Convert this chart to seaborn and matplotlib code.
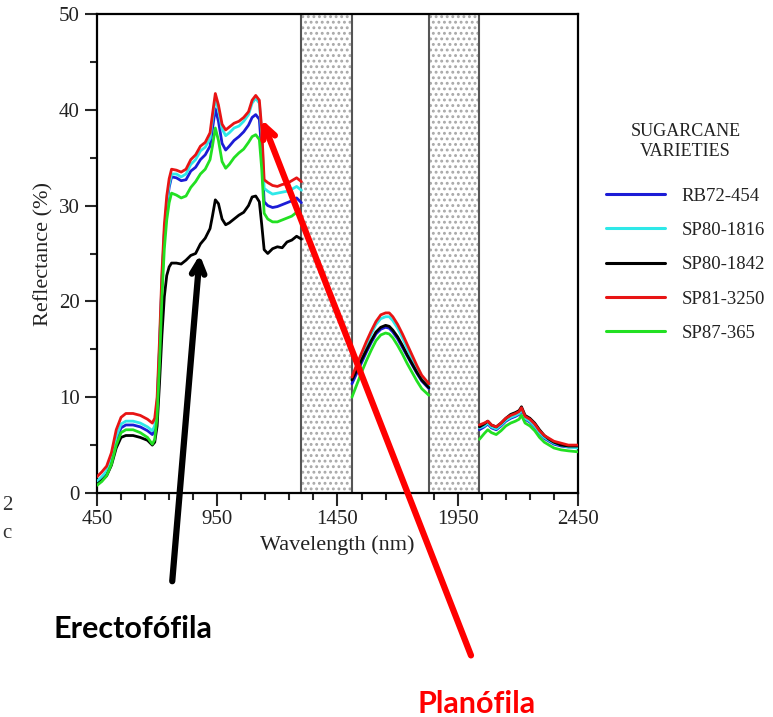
import numpy as np
import pandas as pd
import seaborn as sns
import matplotlib.pyplot as plt

# %% Dados (reflectância em %)
varieties = ['RB72-454', 'SP80-1816', 'SP80-1842', 'SP81-3250', 'SP87-365']
colors = ['#1c1cd6', '#2ee8e8', '#000000', '#e81414', '#22e022']

wl_seg1 = [450, 470, 490, 510, 530, 550, 570, 600, 630, 660, 680, 690, 700, 710, 720, 730,
           740, 750, 760, 780, 800, 820, 840, 860, 880, 900, 920, 930, 942, 955, 970, 985,
           1000, 1020, 1040, 1060, 1080, 1095, 1110, 1125, 1135, 1145, 1160, 1180, 1200,
           1220, 1240, 1260, 1280, 1300]
wl_seg2 = [1510, 1530, 1550, 1570, 1590, 1610, 1630, 1650, 1665, 1680, 1700, 1720, 1740,
           1760, 1780, 1800, 1830]
wl_seg3 = [2040, 2060, 2075, 2090, 2110, 2130, 2150, 2170, 2190, 2205, 2215, 2230, 2250,
           2270, 2290, 2310, 2330, 2350, 2380, 2410, 2450]

rb72_454 = [1.1, 1.5, 2.1, 3.3, 5.5, 6.8, 7.1, 7.1, 6.9, 6.5, 6.1, 6.6, 9.0, 15.0, 22.0, 27.0,
            30.0, 31.9, 33.0, 32.9, 32.6, 32.7, 33.6, 34.0, 34.8, 35.3, 36.2, 38.0, 40.1, 38.8,
            36.5, 35.8, 36.2, 36.8, 37.2, 37.7, 38.4, 39.2, 39.5, 39.0, 35.5, 30.4, 30.0, 29.8,
            29.9, 30.1, 30.3, 30.5, 30.8, 30.3,
            11.4, 12.5, 13.6, 14.7, 15.7, 16.6, 17.1, 17.3, 17.2, 16.8, 16.1, 15.2, 14.3, 13.4,
            12.5, 11.7, 10.9,
            6.6, 6.9, 7.2, 6.8, 6.6, 7.0, 7.5, 7.8, 8.0, 8.2, 8.6, 7.7, 7.4, 6.9, 6.2, 5.7, 5.4,
            5.1, 4.9, 4.8, 4.8]
sp80_1816 = [1.2, 1.7, 2.3, 3.6, 5.9, 7.2, 7.5, 7.5, 7.3, 6.9, 6.5, 7.0, 9.3, 15.3, 22.3, 27.3,
             30.3, 32.2, 33.3, 33.3, 33.0, 33.3, 34.3, 34.8, 35.7, 36.1, 37.0, 39.0, 41.2, 40.0,
             38.0, 37.3, 37.6, 38.1, 38.3, 38.8, 39.5, 40.7, 41.2, 40.7, 37.5, 31.8, 31.5, 31.2,
             31.3, 31.4, 31.5, 31.7, 32.0, 31.6,
             11.9, 13.1, 14.3, 15.5, 16.6, 17.6, 18.2, 18.4, 18.4, 18.0, 17.2, 16.2, 15.1, 14.0,
             13.0, 12.0, 11.2,
             6.8, 7.0, 7.3, 6.9, 6.7, 7.1, 7.6, 7.9, 8.1, 8.3, 8.7, 7.8, 7.5, 7.0, 6.3, 5.8, 5.5,
             5.2, 5.0, 4.8, 4.7]
sp80_1842 = [0.9, 1.3, 1.8, 2.9, 4.7, 5.8, 6.0, 6.0, 5.8, 5.5, 5.0, 5.3, 7.0, 11.5, 16.5, 20.5,
             22.7, 23.6, 24.0, 24.0, 23.9, 24.3, 24.8, 25.0, 26.0, 26.6, 27.6, 28.9, 30.6, 30.2,
             28.6, 28.0, 28.2, 28.6, 29.0, 29.3, 30.0, 30.9, 31.0, 30.4, 28.0, 25.4, 25.0, 25.5,
             25.7, 25.6, 26.2, 26.4, 26.8, 26.5,
             11.8, 12.8, 13.9, 14.9, 15.9, 16.8, 17.3, 17.5, 17.4, 17.0, 16.3, 15.4, 14.4, 13.5,
             12.6, 11.8, 11.0,
             6.9, 7.2, 7.5, 7.1, 6.9, 7.3, 7.8, 8.2, 8.4, 8.6, 9.0, 8.1, 7.8, 7.3, 6.6, 6.0, 5.6,
             5.3, 5.0, 4.9, 4.9]
sp81_3250 = [1.7, 2.2, 2.8, 4.2, 6.6, 7.9, 8.3, 8.3, 8.1, 7.7, 7.3, 7.8, 10.0, 16.0, 23.0, 28.0,
             31.0, 32.8, 33.8, 33.7, 33.5, 33.8, 34.8, 35.3, 36.2, 36.6, 37.6, 39.5, 41.7, 40.5,
             38.5, 37.9, 38.2, 38.6, 38.8, 39.2, 39.8, 41.0, 41.5, 41.0, 38.0, 32.7, 32.4, 32.1,
             32.0, 32.2, 32.3, 32.6, 32.9, 32.5,
             12.1, 13.4, 14.6, 15.8, 16.9, 17.9, 18.6, 18.8, 18.8, 18.4, 17.6, 16.6, 15.5, 14.4,
             13.3, 12.3, 11.4,
             7.1, 7.3, 7.5, 7.1, 6.9, 7.3, 7.8, 8.1, 8.3, 8.5, 8.9, 8.0, 7.7, 7.2, 6.5, 6.0, 5.7,
             5.4, 5.2, 5.0, 5.0]
sp87_365 = [0.8, 1.2, 1.8, 3.0, 5.0, 6.3, 6.6, 6.6, 6.3, 5.8, 5.1, 5.6, 8.0, 13.5, 20.5, 25.5,
            28.5, 30.3, 31.3, 31.1, 30.8, 31.0, 31.9, 32.5, 33.3, 33.8, 34.8, 36.2, 38.1, 36.8,
            34.6, 33.9, 34.3, 35.0, 35.5, 35.9, 36.6, 37.2, 37.4, 36.9, 33.8, 29.2, 28.6, 28.3,
            28.3, 28.5, 28.7, 28.9, 29.3, 28.9,
            10.0, 11.3, 12.6, 13.8, 14.9, 15.9, 16.5, 16.7, 16.6, 16.2, 15.4, 14.5, 13.5, 12.6,
            11.7, 10.9, 10.2,
            5.6, 6.2, 6.6, 6.3, 6.1, 6.5, 7.0, 7.3, 7.5, 7.7, 8.1, 7.3, 7.0, 6.5, 5.8, 5.3, 5.0,
            4.7, 4.5, 4.4, 4.3]

# faixas de absorção da água (sem dados)
gaps = [(1300, 1510), (1830, 2040)]

# %% Montando o dataframe longo
wl_all = wl_seg1 + wl_seg2 + wl_seg3
seg_all = [1] * len(wl_seg1) + [2] * len(wl_seg2) + [3] * len(wl_seg3)
series = [rb72_454, sp80_1816, sp80_1842, sp81_3250, sp87_365]
frames = []
for nome, vals in zip(varieties, series):
    frames.append(pd.DataFrame({'wl': wl_all, 'refl': vals, 'seg': seg_all, 'variedade': nome}))
dataset = pd.concat(frames, ignore_index=True)

# %% Gráfico
sns.set_style('white')
plt.rcParams['font.family'] = ['Liberation Serif', 'DejaVu Serif']
plt.rcParams['hatch.linewidth'] = 1.3

fig = plt.figure(figsize=(7.73, 7.17), dpi=100)
ax = fig.add_axes([97 / 773, 1 - 493 / 717, 481 / 773, 479 / 717])

for a, b in gaps:
    ax.axvspan(a, b, facecolor='white', edgecolor='#a8a8a8', hatch='...', lw=0, zorder=0)
    ax.axvline(a, color='#555555', lw=1.5, zorder=1)
    ax.axvline(b, color='#555555', lw=1.5, zorder=1)

sns.lineplot(data=dataset, x='wl', y='refl', hue='variedade', units='seg', estimator=None,
             palette=dict(zip(varieties, colors)), hue_order=varieties, lw=2, ax=ax, zorder=3)

ax.set_xlim(450, 2450)
ax.set_ylim(0, 50)
ax.set_xticks([450, 950, 1450, 1950, 2450])
ax.set_xticks(np.arange(450, 2451, 100), minor=True)
ax.set_yticks(np.arange(0, 51, 10))
ax.set_yticks(np.arange(5, 50, 10), minor=True)
ax.tick_params(which='major', direction='out', length=9, width=1.5, labelsize=15,
               labelcolor='#222222', bottom=True, left=True)
ax.tick_params(which='minor', direction='out', length=5, width=1.5, bottom=True, left=True)
for s in ax.spines.values():
    s.set_color('black')
    s.set_linewidth(1.6)
ax.set_xlabel('Wavelength (nm)', fontsize=16, color='#222222', labelpad=4)
ax.set_ylabel('Reflectance (%)', fontsize=16, color='#222222', labelpad=4)

leg = ax.legend(title='SUGARCANE\nVARIETIES', frameon=False, fontsize=13.5, title_fontsize=13,
                loc='upper left', bbox_to_anchor=(606 / 773, 1 - 123 / 717),
                bbox_transform=fig.transFigure, borderpad=0, borderaxespad=0,
                handlelength=3.15, handletextpad=0.9, labelspacing=0.92, alignment='center')
for h in leg.get_lines():
    h.set_linewidth(2.2)
leg._legend_box.sep = 20
leg.get_title().set_multialignment('center')
leg.get_title().set_color('#222222')
for t in leg.get_texts():
    t.set_color('#222222')

# fragmentos de texto cortados na margem esquerda
fig.text(0.003, 1 - 506 / 717, '2', fontsize=15, color='#333333', va='center')
fig.text(0.003, 1 - 533 / 717, 'c', fontsize=15, color='#333333', va='center')

# setas e rótulos
ax.annotate('', xy=(200 / 773, 1 - 252 / 717), xytext=(172 / 773, 1 - 584 / 717),
            xycoords='figure fraction', textcoords='figure fraction',
            arrowprops=dict(arrowstyle='->,head_length=0.9,head_width=0.45', color='black', lw=4.5),
            annotation_clip=False, zorder=5)
ax.annotate('', xy=(261 / 773, 1 - 117 / 717), xytext=(472 / 773, 1 - 658 / 717),
            xycoords='figure fraction', textcoords='figure fraction',
            arrowprops=dict(arrowstyle='->,head_length=0.9,head_width=0.45', color='#ff0000', lw=4.5),
            annotation_clip=False, zorder=5)
fig.text(54 / 773, 1 - 638 / 717, 'Erectofófila', fontsize=22, fontweight='bold',
         family=['Lato', 'DejaVu Sans'], color='black', va='baseline')
fig.text(417 / 773, 1 - 713 / 717, 'Planófila', fontsize=22, fontweight='bold',
         family=['Lato', 'DejaVu Sans'], color='#ff0000', va='baseline')

plt.savefig('out.png', dpi=100)
